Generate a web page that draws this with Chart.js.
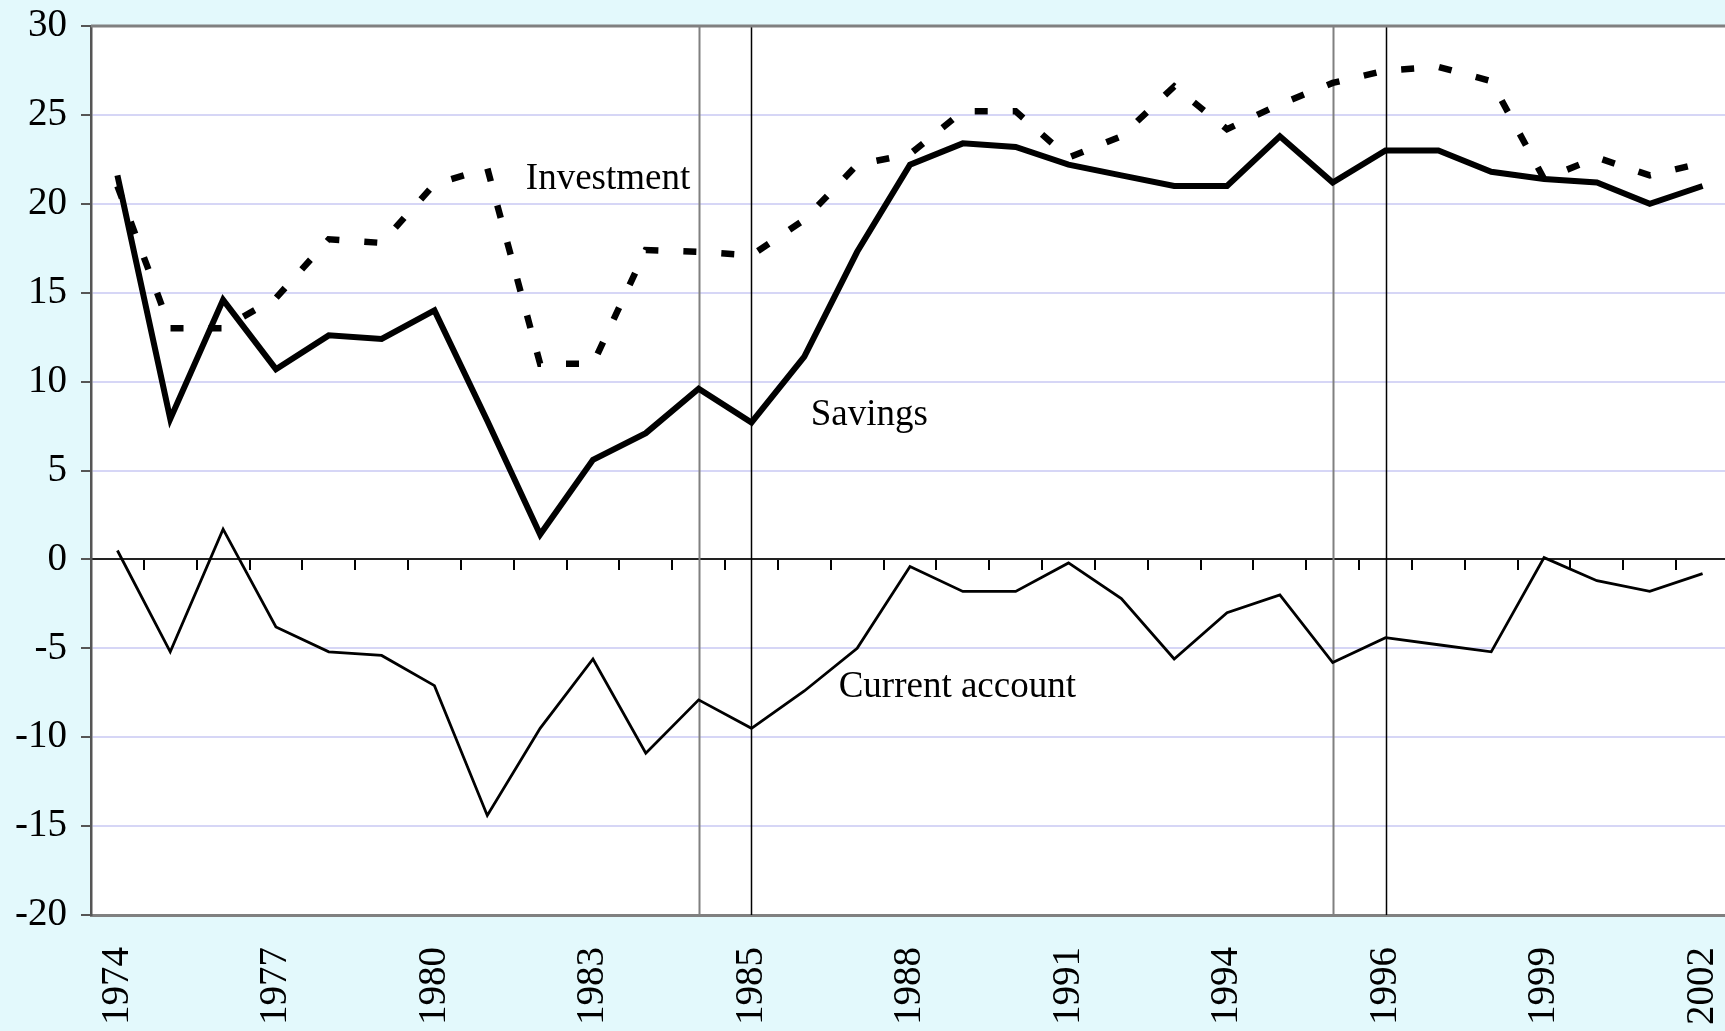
<!DOCTYPE html>
<html>
<head>
<meta charset="utf-8">
<script src="https://cdn.jsdelivr.net/npm/chart.js@4.4.0/dist/chart.umd.min.js"></script>
<style>
  html, body { margin: 0; padding: 0; background: #e3f9fc; overflow: hidden; }
  #wrap { width: 1729px; height: 1031px; }
</style>
</head>
<body>
<div id="wrap"><canvas id="chart" width="1729" height="1031"></canvas></div>
<script>
// Years (series breaks repeat 1984 and 1995)
const years = ['1974', '1975', '1976', '1977', '1978', '1979', '1980', '1981', '1982', '1983',
    '1984', '1984', '1985', '1986', '1987', '1988', '1989', '1990', '1991', '1992',
    '1993', '1994', '1995', '1995', '1996', '1997', '1998', '1999', '2000', '2001', '2002'];

const savings = [21.6, 7.9, 14.6, 10.7, 12.6, 12.4, 14.0, 7.8, 1.4, 5.6,
    7.1, 9.6, 7.7, 11.4, 17.3, 22.2, 23.4, 23.2, 22.2, 21.6,
    21.0, 21.0, 23.8, 21.2, 23.0, 23.0, 21.8, 21.4, 21.2, 20.0, 21.0];

const investment = [21.0, 13.0, 13.0, 14.7, 18.0, 17.8, 21.1, 22.0, 11.0, 11.0,
    17.4, 17.3, 17.1, 19.1, 22.2, 22.8, 25.2, 25.2, 22.6, 23.8,
    26.6, 24.2, 25.6, 26.8, 27.5, 27.7, 26.9, 21.4, 22.6, 21.6, 22.3];

const currentAccount = [0.5, -5.2, 1.7, -3.8, -5.2, -5.4, -7.1, -14.4, -9.5, -5.6,
    -10.9, -7.9, -9.5, -7.4, -5.0, -0.4, -1.8, -1.8, -0.2, -2.2,
    -5.6, -3.0, -2.0, -5.8, -4.4, -4.8, -5.2, 0.1, -1.2, -1.8, -0.8];

// Vertical marker lines at the series breaks (category index)
const breakLines = [11, 12, 23, 24];

// Inline series labels: [text, category index, value]
const seriesLabels = [
    ['Investment', 7.73, 21.4],
    ['Savings', 13.12, 8.1],
    ['Current account', 13.65, -7.2]
];

const FONT = "'Liberation Serif', 'Times New Roman', serif";

// Plot background, frame, break lines and text labels
const decorations = {
    id: 'decorations',
    beforeDraw(chart) {
        const {ctx, chartArea} = chart;
        ctx.save();
        ctx.fillStyle = '#ffffff';
        ctx.fillRect(chartArea.left, chartArea.top, chartArea.right - chartArea.left, chartArea.bottom - chartArea.top);
        ctx.restore();
    },
    beforeDatasetsDraw(chart) {
        const {ctx, chartArea, scales} = chart;
        ctx.save();
        breakLines.forEach((idx, i) => {
            const x = Math.round(scales.x.getPixelForValue(idx)) + 0.5;
            ctx.strokeStyle = i % 2 === 0 ? '#808080' : '#000000';
            ctx.lineWidth = i % 2 === 0 ? 2 : 1.5;
            ctx.beginPath();
            ctx.moveTo(x, chartArea.top);
            ctx.lineTo(x, chartArea.bottom);
            ctx.stroke();
        });
        ctx.restore();
    },
    afterDraw(chart) {
        const {ctx, chartArea, scales} = chart;
        ctx.save();
        ctx.strokeStyle = '#808080';
        ctx.lineWidth = 3;
        ctx.beginPath();
        ctx.moveTo(chartArea.left, chartArea.top);
        ctx.lineTo(chartArea.right, chartArea.top);
        ctx.stroke();

        ctx.fillStyle = '#000';
        ctx.font = '37px ' + FONT;
        ctx.textAlign = 'left';
        ctx.textBaseline = 'middle';
        seriesLabels.forEach(([text, idx, val]) => {
            ctx.fillText(text, scales.x.getPixelForValue(idx), scales.y.getPixelForValue(val));
        });
        ctx.restore();
    }
};

function renderChart() {
    const ctx = document.getElementById('chart').getContext('2d');

    new Chart(ctx, {
        type: 'line',
        data: {
            labels: years,
            datasets: [{
                label: 'Savings',
                data: savings,
                borderColor: '#000',
                borderWidth: 6,
                pointRadius: 0,
                tension: 0
            }, {
                label: 'Investment',
                data: investment,
                borderColor: '#000',
                borderWidth: 6.5,
                borderDash: [13, 25],
                borderCapStyle: 'butt',
                pointRadius: 0,
                tension: 0
            }, {
                label: 'Current account',
                data: currentAccount,
                borderColor: '#000',
                borderWidth: 2.8,
                pointRadius: 0,
                tension: 0
            }]
        },
        options: {
            responsive: false,
            animation: false,
            layout: { padding: { top: 26, left: 0, right: 0, bottom: 0 } },
            plugins: {
                legend: { display: false },
                tooltip: { enabled: false }
            },
            scales: {
                x: {
                    type: 'category',
                    position: 'bottom',
                    offset: true,
                    grid: { drawOnChartArea: false, drawTicks: false },
                    border: { color: '#808080', width: 3 },
                    ticks: {
                        autoSkip: false,
                        maxRotation: 90,
                        minRotation: 90,
                        padding: 32,
                        color: '#000',
                        font: { family: FONT, size: 39 },
                        callback: (value, index) => index % 3 === 0 ? years[index] : ''
                    },
                    afterFit: scale => {
                        scale.height = 116;
                        scale.paddingLeft = 0;
                        scale.paddingRight = 0;
                    }
                },
                xz: {
                    axis: 'x',
                    type: 'category',
                    position: { y: 0 },
                    offset: true,
                    grid: {
                        offset: true,
                        drawOnChartArea: false,
                        drawTicks: true,
                        tickLength: 10,
                        color: '#000',
                        lineWidth: 2
                    },
                    border: { color: '#222', width: 2 },
                    ticks: { display: false },
                    afterFit: scale => {
                        scale.paddingLeft = 0;
                        scale.paddingRight = 0;
                    }
                },
                y: {
                    min: -20,
                    max: 30,
                    ticks: {
                        stepSize: 5,
                        padding: 14,
                        color: '#000',
                        font: { family: FONT, size: 39 }
                    },
                    grid: {
                        color: c => (c.tick && c.tick.value === 0) ? 'rgba(0,0,0,0)' : '#d6d6f6',
                        lineWidth: 2,
                        tickLength: 10,
                        tickColor: '#555'
                    },
                    border: { color: '#555', width: 2.5 },
                    afterFit: scale => {
                        scale.width = 91;
                        scale.paddingTop = 0;
                        scale.paddingBottom = 0;
                    }
                }
            }
        },
        plugins: [decorations]
    });
}

document.addEventListener('DOMContentLoaded', renderChart);
</script>
</body>
</html>
